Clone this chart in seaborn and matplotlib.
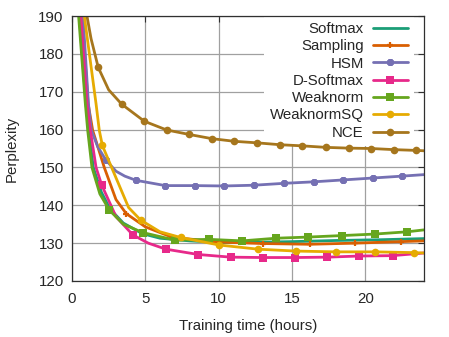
import numpy as np
import pandas as pd
import seaborn as sns
import matplotlib
matplotlib.use("Agg")
import matplotlib.pyplot as plt

# ------------------------------------------------------------
# données (heures, perplexité)
# ------------------------------------------------------------
softmax_x = [0.5, 0.95, 1.15, 1.45, 2.0, 2.6, 3.5, 4.8, 6.0, 8.0, 10.0, 12.0, 15.0, 18.0, 21.0, 24.0]
softmax_y = [190, 166.8, 159.8, 150, 143.5, 139, 135.3, 132.5, 131.3, 130.6, 130.2, 130.2, 130.4, 130.7, 130.9, 131.2]

sampling_x = [0.68, 1.1, 1.41, 2.2, 3.0, 3.7, 5.0, 6.8, 9.9, 13.0, 16.2, 19.3, 22.4, 24.0]
sampling_y = [190, 166.8, 159.8, 150, 141.5, 137.8, 134.3, 131.6, 130.3, 129.9, 129.7, 130.0, 130.4, 130.6]

hsm_x = [0.75, 1.12, 1.32, 1.75, 2.3, 3.0, 3.6, 4.36, 6.36, 8.36, 10.36, 12.4, 14.45, 16.5, 18.5, 20.5, 22.5, 24.0]
hsm_y = [190, 166.8, 159.8, 155.5, 152, 149, 147.7, 146.6, 145.2, 145.2, 145.1, 145.3, 145.8, 146.2, 146.7, 147.2, 147.7, 148.1]

dsoftmax_x = [0.6, 1.02, 1.25, 1.64, 2.02, 3.0, 4.14, 5.2, 6.41, 8.61, 10.82, 13.0, 15.2, 17.4, 19.6, 21.86, 24.0]
dsoftmax_y = [190, 166.8, 159.8, 150, 145.4, 137, 132.2, 130, 128.4, 127.0, 126.3, 126.2, 126.2, 126.3, 126.6, 126.7, 127.4]

weaknorm_x = [0.45, 0.91, 1.07, 1.36, 1.9, 2.55, 3.5, 4.82, 7.02, 9.36, 11.6, 13.9, 16.07, 18.4, 20.65, 22.86, 24.0]
weaknorm_y = [190, 166.8, 159.8, 150, 143, 138.7, 135, 132.8, 130.8, 131.0, 130.6, 131.3, 131.6, 132.0, 132.4, 133.0, 133.5]

weaknormsq_x = [0.84, 1.64, 1.86, 2.07, 2.7, 3.86, 4.68, 6.0, 7.4, 10.04, 12.7, 15.3, 18.0, 20.65, 23.3, 24.0]
weaknormsq_y = [190, 166.8, 159.8, 155.8, 150, 139.4, 136.1, 133, 131.5, 129.5, 128.4, 127.9, 127.7, 127.7, 127.5, 127.4]

nce_x = [1.02, 1.3, 1.79, 2.5, 3.39, 4.93, 6.45, 8.0, 9.54, 11.07, 12.6, 14.18, 15.7, 17.3, 18.86, 20.4, 21.95, 23.45, 24.0]
nce_y = [190, 184, 176.4, 170.5, 166.7, 162.2, 159.9, 158.7, 157.6, 156.9, 156.5, 156.0, 155.7, 155.3, 155.1, 155.0, 154.7, 154.5, 154.4]

series = [
    ("Softmax", softmax_x, softmax_y),
    ("Sampling", sampling_x, sampling_y),
    ("HSM", hsm_x, hsm_y),
    ("D-Softmax", dsoftmax_x, dsoftmax_y),
    ("Weaknorm", weaknorm_x, weaknorm_y),
    ("WeaknormSQ", weaknormsq_x, weaknormsq_y),
    ("NCE", nce_x, nce_y),
]

# style : marqueur, taille, indices des points marqués
styles = {
    "Softmax":    dict(marker=None, ms=0, every=None),
    "Sampling":   dict(marker="+", ms=5, every=[5, 7, 8, 9, 10, 11, 12]),
    "HSM":        dict(marker=(8, 2, 0), ms=5, every=[4] + list(range(7, 17))),
    "D-Softmax":  dict(marker="s", ms=5.5, every=[4, 6, 8, 9, 10, 11, 12, 13, 14, 15]),
    "Weaknorm":   dict(marker="s", ms=5.5, every=[5, 7, 8, 9, 10, 11, 12, 13, 14, 15]),
    "WeaknormSQ": dict(marker="o", ms=5.5, every=[3, 6, 8, 9, 10, 11, 12, 13, 14]),
    "NCE":        dict(marker="o", ms=5.5, every=[2] + list(range(4, 18))),
}

sns.set_style("white")
plt.rcParams["font.family"] = ["Liberation Sans", "DejaVu Sans"]
colors = sns.color_palette("Dark2", 7)
FS = 10.8

fig = plt.figure(figsize=(4.49, 3.37), dpi=100)
ax = fig.add_axes([72 / 449, 1 - 281 / 337, 352 / 449, 265 / 337])

for (name, xs, ys), c in zip(series, colors):
    st = styles[name]
    df = pd.DataFrame({"t": xs, "p": ys})
    kw = dict(lw=2.0, color=c, label=name)
    if st["marker"] is not None:
        kw.update(marker=st["marker"], markersize=st["ms"], markevery=st["every"],
                  markeredgewidth=1.6 if st["marker"] in ("+", (8, 2, 0)) else 0,
                  markeredgecolor=c, markerfacecolor=c)
    sns.lineplot(data=df, x="t", y="p", ax=ax, sort=False, **kw)

ax.set_xlim(0, 24)
ax.set_ylim(120, 190)
ax.set_xticks([0, 5, 10, 15, 20])
ax.set_yticks(np.arange(120, 191, 10))
ax.grid(True, color="#a0a0a0", lw=0.9)
ax.tick_params(direction="in", top=True, right=True, length=4, width=0.8,
               labelsize=FS, color="#303030")
ax.tick_params(axis="x", pad=8)
ax.tick_params(axis="y", pad=6)
for s in ax.spines.values():
    s.set_color("#303030")
    s.set_linewidth(0.9)
ax.set_xlabel("Training time (hours)", fontsize=FS, labelpad=9)
ax.set_ylabel("Perplexity", fontsize=FS, labelpad=14)

# légende façon gnuplot : fond blanc opaque qui masque la grille
leg = ax.legend(loc="upper right", bbox_to_anchor=(414 / 449, 1 - 16 / 337),
                bbox_transform=fig.transFigure, borderaxespad=0, borderpad=0.4,
                frameon=True, fancybox=False, facecolor="white", edgecolor="none",
                framealpha=1.0, markerfirst=False, fontsize=FS, numpoints=1,
                handlelength=2.35, labelspacing=0.22, handletextpad=0.6)
for h in leg.legend_handles:
    h.set_markevery([1])
leg.set_zorder(1.5)

fig.savefig("out.png", dpi=100)
